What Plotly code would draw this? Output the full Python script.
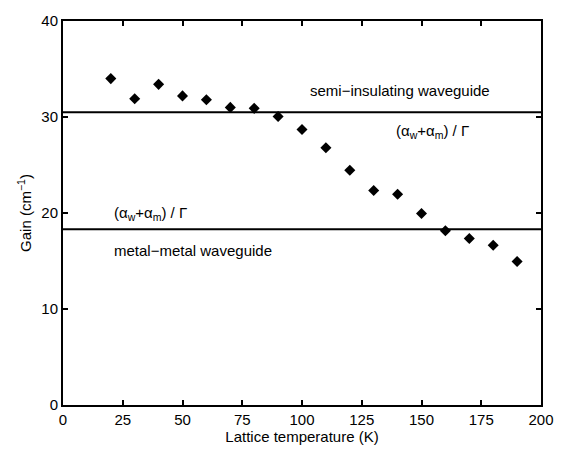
import plotly.graph_objects as go

temperature = [20, 30, 40, 50, 60, 70, 80, 90, 100, 110, 120, 130, 140, 150, 160, 170, 180, 190]
gain = [34.0, 31.9, 33.4, 32.2, 31.8, 31.0, 30.9, 30.05, 28.7, 26.8, 24.45, 22.35, 21.95, 19.95, 18.15, 17.35, 16.65, 14.95]

threshold_x = [0, 200]
semi_insulating_level = 30.5
metal_metal_level = 18.3

x_ticks = [0, 25, 50, 75, 100, 125, 150, 175, 200]
y_ticks = [0, 10, 20, 30, 40]

FONT = "Liberation Sans, Arial, Helvetica, sans-serif"

fig = go.Figure()

fig.add_trace(go.Scatter(x=threshold_x, y=[semi_insulating_level] * 2, mode="lines",
                         line=dict(color="black", width=2), showlegend=False, hoverinfo="skip"))
fig.add_trace(go.Scatter(x=threshold_x, y=[metal_metal_level] * 2, mode="lines",
                         line=dict(color="black", width=2), showlegend=False, hoverinfo="skip"))
fig.add_trace(go.Scatter(x=temperature, y=gain, mode="markers",
                         marker=dict(symbol="diamond", size=8.5, color="black",
                                     line=dict(width=0)),
                         showlegend=False))

formula = "(α<sub>w</sub>+α<sub>m</sub>) / Γ"
ann_font = dict(family=FONT, size=15, color="black")
fig.add_annotation(x=102.5, y=32.75, text="semi−insulating waveguide", showarrow=False,
                   xanchor="left", yanchor="middle", font=ann_font)
fig.add_annotation(x=138.5, y=28.5, text=formula, showarrow=False,
                   xanchor="left", yanchor="middle", font=ann_font)
fig.add_annotation(x=20.5, y=20.0, text=formula, showarrow=False,
                   xanchor="left", yanchor="middle", font=ann_font)
fig.add_annotation(x=20.5, y=16.1, text="metal−metal waveguide", showarrow=False,
                   xanchor="left", yanchor="middle", font=ann_font)

axis_common = dict(
    showgrid=False, zeroline=False, showline=True, linecolor="black", linewidth=2,
    mirror="allticks", ticks="inside", ticklen=5, tickwidth=1.5, tickcolor="black",
    tickfont=dict(family=FONT, size=15, color="black"),
)

fig.update_xaxes(range=[0, 200], tickvals=x_ticks, ticktext=[str(v) for v in x_ticks],
                 title=dict(text="Lattice temperature (K)", standoff=0,
                            font=dict(family=FONT, size=15, color="black")),
                 **axis_common)
fig.update_yaxes(range=[0, 40], tickvals=y_ticks, ticktext=[str(v) for v in y_ticks],
                 title=dict(text="Gain (cm<sup>−1</sup>)", standoff=6,
                            font=dict(family=FONT, size=15, color="black")),
                 **axis_common)

fig.update_layout(
    width=566, height=451,
    margin=dict(l=63, r=20, t=14, b=43),
    plot_bgcolor="white", paper_bgcolor="white",
    font=dict(family=FONT, color="black"),
)

fig.write_html("out.html", config={"displayModeBar": False},
               post_script="document.body.style.margin='0';document.body.style.overflow='hidden';")
